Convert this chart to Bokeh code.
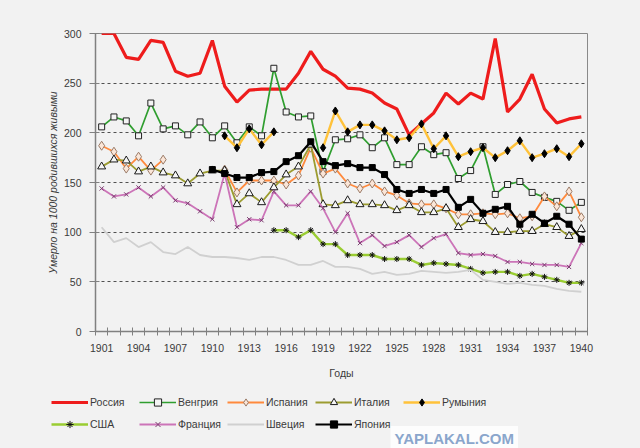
from bokeh.plotting import figure
from bokeh.models import (ColumnDataSource, Legend, LegendItem, FixedTicker,
                          Range1d, Label)
from bokeh.embed import file_html
from bokeh.resources import INLINE

nan = float("nan")

years = list(range(1901, 1941))
tick_years = list(range(1901, 1941, 3))
y_ticks = [0, 50, 100, 150, 200, 250, 300]

russia = [300, 300, 276, 274, 293, 291, 262, 257, 260, 293,
          247, 231, 243, 244, 244, 244, 260, 282, 264, 257,
          245, 244, 240, 230, 224, 198, 209, 220, 240, 229,
          240, 234, 295, 221, 234, 259, 224, 210, 214, 216]
hungary = [206, 216, 212, 197, 230, 204, 207, 198, 211, 195,
           207, 190, 206, 197, 265, 221, 216, 217, 161, 193,
           194, 198, 185, 195, 168, 168, 186, 178, 180, 154,
           162, 186, 138, 148, 151, 140, 135, 131, 122, 130]
spain = [187, 181, 164, 176, 162, 173, nan, nan, nan, nan,
         163, 140, 152, 152, 152, 148, 157, 185, 159, 164,
         149, 144, 149, 141, 137, 129, 128, 128, 124, 118,
         118, 119, 118, 119, 114, 116, 136, 126, 141, 115]
italy = [166, 173, 172, 161, 166, 160, 157, 149, 159, 162,
         162, 128, 139, 130, 145, 158, 166, 188, 128, 127,
         132, 128, 128, 127, 122, 127, 120, 120, 124, 105,
         113, 111, 100, 100, 101, 101, 108, 105, 96, 103]
romania = [nan, nan, nan, nan, nan, nan, nan, nan, nan, nan,
           197, 185, 204, 188, 201, nan, nan, nan, 185, 222,
           201, 208, 208, 202, 193, 195, 209, 184, 197, 176,
           181, 185, 175, 182, 192, 175, 179, 184, 176, 189]
usa = [nan, nan, nan, nan, nan, nan, nan, nan, nan, nan,
       nan, nan, nan, nan, 102, 102, 95, 102, 88, 88,
       77, 77, 77, 73, 73, 73, 67, 69, 68, 67,
       63, 59, 60, 60, 56, 58, 55, 52, 49, 49]
france = [144, 136, 138, 145, 136, 145, 132, 129, 121, 113,
          159, 105, 113, 112, 141, 127, 127, 141, 124, 100,
          119, 89, 97, 86, 90, 97, 85, 94, 98, 79,
          77, 78, 76, 70, 70, 68, 67, 67, 65, 89]
sweden = [105, 90, 94, 85, 90, 80, 78, 85, 77, 75,
          75, 74, 72, 75, 75, 72, 67, 67, 71, 65,
          65, 63, 58, 60, 57, 58, 61, 60, 59, 60,
          62, 52, 50, 48, 49, 47, 46, 43, 41, 40]
japan = [nan, nan, nan, nan, nan, nan, nan, nan, nan, 163,
         159, 155, 155, 160, 161, 171, 177, 191, 171, 167,
         169, 165, 165, 158, 143, 139, 143, 139, 143, 125,
         133, 119, 123, 126, 108, 118, 109, 116, 108, 93]

names = ["Россия", "Венгрия", "Испания", "Италия", "Румыния",
         "США", "Франция", "Швеция", "Япония"]
series = [russia, hungary, spain, italy, romania, usa, france, sweden, japan]
watermark = "YAPLAKAL.COM"

# styles: line color, line width, marker, marker size, marker line, marker fill
styles = [
    ("#ee1c1c", 3.2, None, 0, None, None),
    ("#2f9e2f", 1.7, "square", 6, "#222222", "#f4f4f4"),
    ("#ff8a3d", 1.8, "diamond", 9, "#9a7a66", "#fbe6d8"),
    ("#9c9c30", 1.8, "triangle", 8, "#1a1a1a", "#f6f6f6"),
    ("#ffc23a", 2.4, "diamond", 8, "#000000", "#000000"),
    ("#9acd32", 2.4, "asterisk", 6, "#111111", "#111111"),
    ("#cc74b8", 1.8, "x", 6, "#7a3f70", "#7a3f70"),
    ("#d0d0d0", 1.8, None, 0, None, None),
    ("#000000", 2.2, "square", 6, "#000000", "#000000"),
]

BG = "#f2f2f2"
FONT = "Liberation Sans"
TXT = "#3a3a3a"


def draw(fig, xs, ys, st):
    color, lw, marker, msize, mline, mfill = st
    src = ColumnDataSource(data=dict(x=xs, y=ys))
    rs = [fig.line("x", "y", source=src, line_color=color, line_width=lw)]
    if marker:
        rs.append(fig.scatter("x", "y", source=src, marker=marker, size=msize,
                              line_color=mline, fill_color=mfill, line_width=1))
    return rs


# ---------------- main chart ----------------
p = figure(width=640, height=385, output_backend="svg", toolbar_location=None,
           x_range=Range1d(1900.5, 1940.5), y_range=Range1d(0, 300),
           min_border_left=95, min_border_right=53, min_border_top=33,
           min_border_bottom=54)
p.background_fill_color = BG
p.border_fill_color = BG
p.outline_line_color = "#8a8a8a"
p.outline_line_width = 1

for vals, st in zip(series, styles):
    draw(p, years, vals, st)

xa = p.xaxis[0]
xa.ticker = FixedTicker(ticks=tick_years,
                        minor_ticks=[y - 0.5 for y in years] + [years[-1] + 0.5])
xa.major_tick_in = 0
xa.major_tick_out = 0
xa.minor_tick_in = 4
xa.minor_tick_out = 4
xa.minor_tick_line_color = "#808080"
xa.axis_line_color = "#808080"
xa.axis_line_width = 1.5
xa.major_label_standoff = 8
xa.major_label_text_font = FONT
xa.major_label_text_font_size = "10.5px"
xa.major_label_text_color = TXT
xa.axis_label = "Годы"
xa.axis_label_text_font = FONT
xa.axis_label_text_font_size = "10.5px"
xa.axis_label_text_font_style = "normal"
xa.axis_label_text_color = TXT
xa.axis_label_standoff = 12

ya = p.yaxis[0]
ya.ticker = FixedTicker(ticks=y_ticks)
ya.major_tick_in = 4
ya.major_tick_out = 6
ya.major_tick_line_color = "#808080"
ya.minor_tick_line_color = None
ya.axis_line_color = "#808080"
ya.axis_line_width = 1.5
ya.major_label_standoff = 8
ya.major_label_text_font = FONT
ya.major_label_text_font_size = "10.5px"
ya.major_label_text_color = TXT
ya.axis_label = "Умерло на 1000 родившихся живыми"
ya.axis_label_text_font = FONT
ya.axis_label_text_font_size = "10.5px"
ya.axis_label_text_font_style = "italic"
ya.axis_label_text_color = TXT
ya.axis_label_standoff = 2

p.xgrid.grid_line_color = None
p.ygrid.grid_line_color = "#505050"
p.ygrid.grid_line_dash = "3 3"
p.ygrid.grid_line_width = 1

# ---------------- legend strip (series kept out of its view) ----------------
q = figure(width=640, height=63, output_backend="svg", toolbar_location=None,
           x_range=Range1d(0, 640), y_range=Range1d(0, 63),
           x_axis_location=None, y_axis_location=None,
           min_border_left=0, min_border_right=0, min_border_top=0,
           min_border_bottom=0)
q.grid.visible = False
q.outline_line_color = None
q.background_fill_color = BG
q.border_fill_color = BG

items = []
for name, vals, st in zip(names, series, styles):
    items.append(LegendItem(label=name, renderers=draw(q, years, vals, st)))

legend = Legend(items=items, location=(51, 15), orientation="horizontal",
                ncols=5, margin=0, padding=2, spacing=4,
                glyph_width=37, glyph_height=18, label_standoff=2,
                label_width=45, label_height=18,
                label_text_font=FONT, label_text_font_size="10.5px",
                label_text_color=TXT, border_line_color=None,
                background_fill_alpha=0)
q.add_layout(legend, "center")

wm = Label(x=390, y=10, text=watermark, text_font=FONT,
           text_font_size="15px", text_font_style="bold", text_baseline="middle",
           text_color="#8aa6cc", background_fill_color="#ffffff",
           background_fill_alpha=0.85, padding=4)
q.add_layout(wm)

html = file_html([p, q], INLINE)
html = html.replace(
    "<head>",
    "<head><style>body{background:%s;font-size:0;line-height:0;}</style>" % BG, 1)
open("out.html", "w").write(html)
